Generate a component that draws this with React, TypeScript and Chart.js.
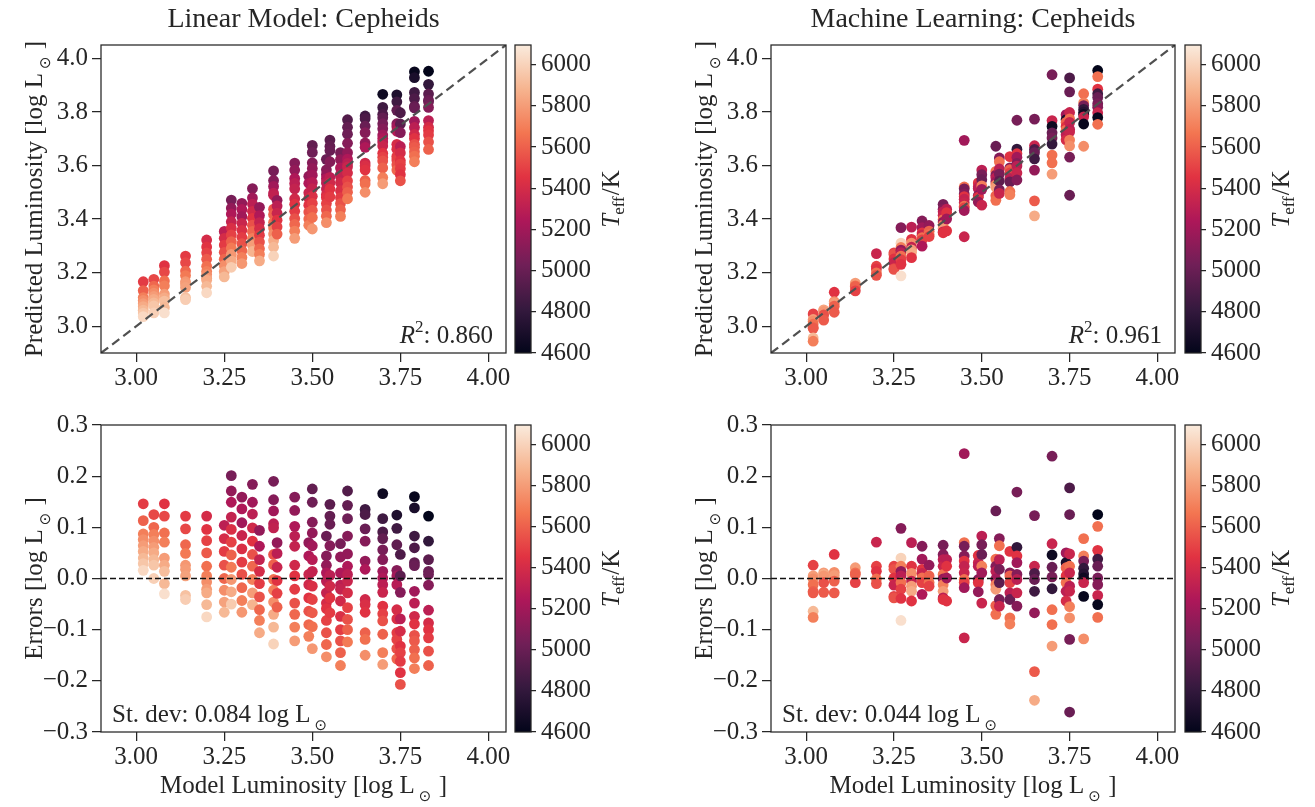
import React, { useEffect, useRef } from 'react';
import { Chart, registerables } from 'chart.js';

Chart.register(...registerables);

// ---------------- data ----------------
// Model luminosity of each column of Cepheid models [log L_sun]
const modelLum = [3.02, 3.05, 3.08, 3.14, 3.20, 3.25, 3.27, 3.30, 3.33, 3.35, 3.39, 3.40, 3.45, 3.49, 3.50, 3.54, 3.55, 3.58, 3.60, 3.65, 3.70, 3.74, 3.75, 3.79, 3.83];

// Linear model: errors (predicted - model) per column
const linearErrors: number[][] = [
  [0.146, 0.113, 0.087, 0.076, 0.064, 0.053, 0.040, 0.029, 0.016],
  [0.125, 0.100, 0.086, 0.073, 0.061, 0.050, 0.037, 0.026, 0.000],
  [0.146, 0.122, 0.089, 0.071, 0.040, 0.026, 0.014, -0.010, -0.030],
  [0.122, 0.097, 0.066, 0.049, 0.026, 0.018, 0.005, -0.033, -0.041],
  [0.122, 0.096, 0.074, 0.050, 0.024, 0.005, -0.007, -0.021, -0.028, -0.051, -0.075],
  [0.104, 0.078, 0.053, 0.026, 0.000, -0.023, -0.046, -0.066],
  [0.201, 0.171, 0.149, 0.120, 0.096, 0.071, 0.046, 0.022, -0.002, -0.026, -0.050],
  [0.159, 0.136, 0.109, 0.084, 0.058, 0.032, 0.008, -0.018, -0.043, -0.066],
  [0.184, 0.149, 0.126, 0.099, 0.073, 0.047, 0.024, -0.002, -0.028, -0.051],
  [0.094, 0.063, 0.037, 0.014, -0.010, -0.036, -0.061, -0.082, -0.106],
  [0.190, 0.154, 0.132, 0.107, 0.099, 0.047, 0.027, -0.002, -0.023, -0.046, -0.070, -0.095, -0.128],
  [0.070, 0.049, 0.022, -0.004, -0.029, -0.056],
  [0.159, 0.133, 0.102, 0.083, 0.063, 0.026, 0.005, -0.021, -0.048, -0.070, -0.095, -0.122],
  [0.070, 0.044, 0.008, -0.012, -0.038, -0.064, -0.090, -0.113],
  [0.175, 0.149, 0.110, 0.089, 0.064, 0.037, 0.014, -0.015, -0.041, -0.067, -0.094, -0.137],
  [0.083, 0.044, 0.026, 0.011, -0.005, -0.028, -0.048, -0.059, -0.082, -0.106, -0.129, -0.153],
  [0.145, 0.122, 0.106, 0.064, 0.006, -0.015, -0.038, -0.067],
  [0.068, 0.042, 0.011, -0.013, -0.021, -0.044, -0.074, -0.100, -0.122, -0.145, -0.170],
  [0.171, 0.143, 0.117, 0.083, 0.048, 0.024, 0.008, -0.005, -0.028, -0.057, -0.080, -0.100, -0.124],
  [0.135, 0.125, 0.097, 0.073, 0.034, 0.018, -0.041, -0.051, -0.066, -0.106, -0.119, -0.150],
  [0.166, 0.117, 0.091, 0.078, 0.056, 0.037, 0.014, 0.001, -0.012, -0.027, -0.054, -0.069, -0.083, -0.109, -0.145, -0.168],
  [0.124, 0.098, 0.066, 0.016, 0.005, -0.012, -0.061, -0.079, -0.106, -0.119, -0.137, -0.157],
  [0.047, 0.005, -0.027, -0.079, -0.103, -0.132, -0.145, -0.162, -0.184, -0.207],
  [0.160, 0.138, 0.083, 0.060, 0.031, 0.025, -0.025, -0.048, -0.074, -0.089, -0.111, -0.122, -0.139, -0.155, -0.176],
  [0.122, 0.073, 0.037, 0.014, 0.008, -0.013, -0.062, -0.087, -0.100, -0.116, -0.142, -0.170],
];

// Linear model: effective temperature of each point [K]
const linearTeff: number[][] = [
  [5480, 5600, 5700, 5750, 5800, 5850, 5900, 5950, 6020],
  [5520, 5620, 5700, 5750, 5800, 5850, 5900, 5950, 5990],
  [5450, 5520, 5650, 5700, 5800, 5850, 5920, 5900, 6050],
  [5480, 5520, 5620, 5680, 5780, 5800, 5820, 5930, 5980],
  [5400, 5450, 5500, 5580, 5650, 5700, 5750, 5800, 5850, 5900, 6020],
  [5300, 5400, 5480, 5550, 5620, 5750, 5820, 5900],
  [5050, 5150, 5250, 5330, 5420, 5500, 5600, 5680, 5780, 5850, 5970],
  [5150, 5250, 5200, 5350, 5420, 5480, 5550, 5620, 5700, 5780],
  [5100, 5200, 5300, 5380, 5450, 5550, 5620, 5700, 5800, 5880],
  [5150, 5250, 5330, 5400, 5480, 5550, 5620, 5700, 5850],
  [5050, 5100, 5200, 5300, 5320, 5550, 5600, 5650, 5700, 5750, 5850, 5900, 6000],
  [5150, 5300, 5350, 5450, 5500, 5600],
  [5100, 5150, 5250, 5300, 5330, 5380, 5450, 5480, 5550, 5620, 5700, 5800],
  [5150, 5250, 5350, 5380, 5450, 5550, 5620, 5700],
  [4980, 5020, 5100, 5150, 5200, 5280, 5330, 5420, 5500, 5580, 5650, 5780],
  [5000, 5100, 5150, 5250, 5300, 5330, 5400, 5450, 5500, 5550, 5620, 5750],
  [4950, 4980, 5000, 5100, 5300, 5380, 5450, 5480],
  [5050, 5150, 5250, 5300, 5330, 5380, 5420, 5480, 5550, 5600, 5700],
  [4920, 4980, 5020, 5100, 5150, 5250, 5300, 5350, 5400, 5500, 5550, 5600, 5680],
  [4850, 4900, 5000, 5100, 5150, 5250, 5380, 5420, 5450, 5600, 5650, 5750],
  [4650, 4850, 4900, 4980, 5050, 5100, 5200, 5250, 5300, 5350, 5450, 5500, 5550, 5600, 5700, 5800],
  [4720, 4850, 4970, 5100, 5200, 5280, 5400, 5430, 5480, 5500, 5550, 5620],
  [4900, 4950, 5100, 5300, 5400, 5450, 5500, 5480, 5450, 5550],
  [4620, 4700, 4850, 4900, 4980, 5000, 5200, 5300, 5380, 5450, 5550, 5580, 5600, 5650, 5700],
  [4600, 4800, 4950, 5000, 5020, 5100, 5300, 5400, 5450, 5480, 5550, 5600],
];

// Machine learning: errors per column
const mlErrors: number[][] = [
  [0.026, 0.005, -0.001, -0.012, -0.025, -0.028, -0.064, -0.076],
  [0.011, 0.008, 0.005, -0.008, -0.027],
  [0.047, 0.012, 0.006, -0.005, -0.028],
  [0.021, 0.011, 0.008, -0.008],
  [0.071, 0.024, 0.014, -0.001, -0.010],
  [0.024, 0.018, 0.001, -0.013, -0.035, -0.038],
  [0.098, 0.040, 0.024, 0.014, 0.005, -0.008, -0.021, -0.039, -0.082],
  [0.070, 0.024, 0.010, -0.005, -0.015, -0.025, -0.044],
  [0.063, 0.038, 0.018, 0.010, 0.001, -0.008, -0.031],
  [0.026, 0.005, -0.008, -0.015],
  [0.065, 0.047, 0.037, 0.024, 0.008, -0.001, -0.012, -0.025, -0.038, -0.041],
  [0.037, 0.024, 0.001, -0.044],
  [0.244, 0.070, 0.063, 0.044, 0.034, 0.024, 0.011, -0.002, -0.008, -0.018, -0.116],
  [0.045, 0.031, 0.024, -0.002, -0.008, -0.026],
  [0.083, 0.066, 0.047, 0.024, 0.011, -0.048],
  [0.132, 0.038, 0.024, 0.014, -0.001, -0.012, -0.021, -0.053, -0.070],
  [0.078, 0.064, 0.037, 0.018, -0.008, -0.041, -0.054],
  [0.053, 0.011, 0.005, -0.008, -0.028, -0.041, -0.077, -0.089],
  [0.169, 0.061, 0.044, 0.031, 0.008, -0.002, -0.028, -0.054],
  [0.123, 0.024, 0.010, -0.002, -0.025, -0.067, -0.182, -0.238],
  [0.239, 0.068, 0.046, 0.022, 0.003, -0.020, -0.061, -0.090, -0.132],
  [0.050, 0.031, 0.021, 0.005, -0.008, -0.025, -0.044],
  [0.177, 0.125, 0.048, 0.024, 0.011, -0.015, -0.025, -0.055, -0.077, -0.119, -0.261],
  [0.078, 0.044, 0.034, 0.020, 0.009, 0.001, -0.008, -0.035, -0.118],
  [0.125, 0.102, 0.055, 0.038, 0.024, 0.001, -0.012, -0.033, -0.051, -0.076],
];

// Machine learning: effective temperatures [K]
const mlTeff: number[][] = [
  [5500, 5800, 5750, 5650, 5600, 5580, 5900, 5700],
  [5800, 5850, 5780, 5550, 5580],
  [5450, 5750, 5800, 5600, 5580],
  [5800, 5650, 5600, 5500],
  [5350, 5500, 5450, 5650, 5550],
  [5500, 5550, 5450, 5350, 5500, 5550],
  [5100, 6000, 5700, 5150, 5300, 5650, 5500, 5450, 6050],
  [5300, 5450, 5750, 5330, 5800, 5850, 5450],
  [5100, 5200, 5450, 5350, 5650, 5500, 5250],
  [5150, 5600, 5650, 5500],
  [5050, 5100, 5300, 5350, 5650, 5150, 5700, 5800, 5300, 5450],
  [5300, 5450, 5200, 5450],
  [5200, 5650, 5050, 5100, 5450, 5330, 5350, 5650, 5500, 5200, 5350],
  [5450, 5350, 5300, 5100, 5450, 5150],
  [5300, 5050, 5000, 5700, 5200, 5350],
  [5000, 5650, 5100, 5300, 5200, 5700, 5800, 5600, 5650],
  [5100, 5650, 5300, 5050, 4950, 5050, 5350],
  [5450, 5100, 5600, 5500, 5300, 5000, 5650, 5700],
  [5050, 4800, 5450, 5200, 5100, 5300, 5350, 5100],
  [5050, 5350, 4900, 5000, 4850, 5150, 5580, 5850],
  [5050, 5350, 4650, 5000, 5050, 4800, 5650, 5650, 5800],
  [5200, 4700, 5600, 5450, 5650, 5300, 5400],
  [4900, 5000, 5350, 5650, 5350, 5300, 5350, 5700, 5750, 5050, 5000],
  [5650, 5700, 5050, 4800, 4750, 4650, 5350, 4620, 5750],
  [4600, 5650, 5450, 4850, 5000, 5050, 5100, 5350, 4620, 5650],
];

// ticks / ranges
const lumTicks = [3.0, 3.25, 3.5, 3.75, 4.0];
const predTicks = [3.0, 3.2, 3.4, 3.6, 3.8, 4.0];
const errTicks = [-0.3, -0.2, -0.1, 0.0, 0.1, 0.2, 0.3];
const teffTicks = [4600, 4800, 5000, 5200, 5400, 5600, 5800, 6000];
const lumRange = [2.9, 4.05];
const errRange = [-0.3, 0.3];
const teffRange = [4600, 6095];
const r2Linear = '0.860';
const r2ML = '0.961';
const sdLinear = '0.084';
const sdML = '0.044';

// ---------------- style ----------------
const SERIF = '"Liberation Serif", "Times New Roman", Times, serif';
const INK = '#262626';
const rocketStops: [number, number[]][] = [
  [0, [3, 5, 26]],
  [1 / 7, [53, 25, 62]],
  [2 / 7, [112, 31, 87]],
  [3 / 7, [173, 23, 89]],
  [4 / 7, [225, 51, 66]],
  [5 / 7, [243, 118, 81]],
  [6 / 7, [246, 180, 143]],
  [1, [250, 235, 221]],
];

function rocket(teff: number): string {
  let t = (teff - teffRange[0]) / (teffRange[1] - teffRange[0]);
  t = Math.max(0, Math.min(1, t));
  for (let i = 0; i < rocketStops.length - 1; i++) {
    const [t0, c0] = rocketStops[i];
    const [t1, c1] = rocketStops[i + 1];
    if (t <= t1) {
      const f = (t - t0) / (t1 - t0);
      const c = c0.map((v, k) => Math.round(v + (c1[k] - v) * f));
      return `rgb(${c[0]},${c[1]},${c[2]})`;
    }
  }
  return 'rgb(250,235,221)';
}

type Part = { t: string; size: number; italic?: boolean; dy?: number; dx?: number; family?: string };

function fontOf(p: Part) {
  return `${p.italic ? 'italic ' : ''}${p.size}px ${p.family || SERIF}`;
}

function drawRich(ctx: CanvasRenderingContext2D, parts: Part[], x: number, y: number, align: 'left' | 'center' | 'right', rotation = 0) {
  ctx.save();
  ctx.translate(x, y);
  ctx.rotate(rotation);
  ctx.textBaseline = 'alphabetic';
  ctx.textAlign = 'left';
  ctx.fillStyle = INK;
  let total = 0;
  const widths = parts.map((p) => {
    ctx.font = fontOf(p);
    const w = ctx.measureText(p.t).width + (p.dx || 0);
    total += w;
    return w;
  });
  let cx = align === 'left' ? 0 : align === 'right' ? -total : -total / 2;
  parts.forEach((p, i) => {
    ctx.font = fontOf(p);
    ctx.fillText(p.t, cx + (p.dx || 0), p.dy || 0);
    cx += widths[i];
  });
  ctx.restore();
}

const SUN: Part = { t: '\u2299', size: 15, family: '"DejaVu Sans", sans-serif', dy: 8, dx: 4 };
const logSun = (prefix: string): Part[] => [
  { t: prefix + '[log L', size: 25 },
  SUN,
  { t: ' ]', size: 25, dx: 1 },
];

// ---------------- chart configs ----------------
type Area = { l: number; t: number; r: number; b: number };

function panelConfig(opts: {
  kind: 'pred' | 'err';
  errs: number[][];
  teffs: number[][];
  w: number;
  h: number;
  area: Area;
  title?: string;
  yLabel: Part[];
  xLabel?: Part[];
  note: Part[];
  noteAlign: 'left' | 'right';
  noteX: number;
  noteY: number;
}) {
  const { kind, errs, teffs, w, h, area } = opts;
  const pts: { x: number; y: number }[] = [];
  const colors: string[] = [];
  modelLum.forEach((x, i) => {
    errs[i].forEach((e, j) => {
      pts.push({ x, y: kind === 'pred' ? +(x + e).toFixed(3) : e });
      colors.push(rocket(teffs[i][j]));
    });
  });
  const refLine =
    kind === 'pred'
      ? [
          { x: lumRange[0], y: lumRange[0] },
          { x: lumRange[1], y: lumRange[1] },
        ]
      : [
          { x: lumRange[0], y: 0 },
          { x: lumRange[1], y: 0 },
        ];
  const yr = kind === 'pred' ? lumRange : errRange;
  const yt = kind === 'pred' ? predTicks : errTicks;
  const tickFont = { family: SERIF, size: 25 };
  const grid = { display: true, drawOnChartArea: false, drawTicks: true, tickLength: 9, color: INK, lineWidth: 1.25 };
  return {
    type: 'scatter' as const,
    data: {
      datasets: [
        {
          type: 'line' as const,
          data: refLine,
          borderColor: kind === 'pred' ? '#505050' : '#111111',
          borderWidth: kind === 'pred' ? 2.2 : 1.5,
          borderDash: kind === 'pred' ? [9, 5] : [6, 3],
          pointRadius: 0,
          fill: false,
          order: 0,
        },
        {
          data: pts,
          backgroundColor: colors,
          borderWidth: 0,
          pointRadius: 5.4,
          pointHoverRadius: 5.4,
          order: 1,
        },
      ],
    },
    options: {
      responsive: false,
      animation: false as const,
      devicePixelRatio: 1,
      events: [] as any[],
      layout: { padding: { left: 0, top: area.t, right: w - area.r, bottom: 0 } },
      plugins: { legend: { display: false }, tooltip: { enabled: false }, title: { display: false } },
      scales: {
        x: {
          type: 'linear' as const,
          min: lumRange[0],
          max: lumRange[1],
          afterBuildTicks: (s: any) => {
            s.ticks = lumTicks.map((v) => ({ value: v }));
          },
          afterFit: (s: any) => {
            s.height = h - area.b;
          },
          ticks: { font: tickFont, color: INK, padding: 1, maxRotation: 0, autoSkip: false, callback: (v: any) => Number(v).toFixed(2) },
          grid,
          border: { display: false },
        },
        y: {
          type: 'linear' as const,
          min: yr[0],
          max: yr[1],
          afterBuildTicks: (s: any) => {
            s.ticks = yt.map((v) => ({ value: v }));
          },
          afterFit: (s: any) => {
            s.width = area.l;
          },
          ticks: {
            font: tickFont,
            color: INK,
            padding: 4,
            autoSkip: false,
            callback: (v: any) => {
              const n = Number(v);
              return n < -1e-9 ? '\u2212' + Math.abs(n).toFixed(1) : Math.abs(n).toFixed(1);
            },
          },
          grid,
          border: { display: false },
        },
      },
    },
    plugins: [
      {
        id: 'deco',
        afterDraw(chart: any) {
          const ctx: CanvasRenderingContext2D = chart.ctx;
          const a = chart.chartArea;
          ctx.save();
          ctx.strokeStyle = INK;
          ctx.lineWidth = 1.25;
          ctx.strokeRect(a.left, a.top, a.right - a.left, a.bottom - a.top);
          ctx.restore();
          const cx = (a.left + a.right) / 2;
          if (opts.title) drawRich(ctx, [{ t: opts.title, size: 28 }], cx, 27, 'center');
          drawRich(ctx, opts.yLabel, 42, (a.top + a.bottom) / 2, 'center', -Math.PI / 2);
          if (opts.xLabel) drawRich(ctx, opts.xLabel, cx, a.bottom + 61, 'center');
          drawRich(ctx, opts.note, opts.noteX, opts.noteY, opts.noteAlign);
        },
      },
    ],
  };
}

function colorbarConfig(w: number, h: number, area: Area) {
  return {
    type: 'scatter' as const,
    data: { datasets: [] as any[] },
    options: {
      responsive: false,
      animation: false as const,
      devicePixelRatio: 1,
      events: [] as any[],
      layout: { padding: { left: area.l, top: area.t, right: 0, bottom: h - area.b } },
      plugins: { legend: { display: false }, tooltip: { enabled: false } },
      scales: {
        x: { type: 'linear' as const, display: false, min: 0, max: 1 },
        y: {
          type: 'linear' as const,
          position: 'right' as const,
          min: teffRange[0],
          max: teffRange[1],
          afterBuildTicks: (s: any) => {
            s.ticks = teffTicks.map((v) => ({ value: v }));
          },
          afterFit: (s: any) => {
            s.width = w - area.r;
          },
          ticks: { font: { family: SERIF, size: 25 }, color: INK, padding: 5, autoSkip: false, callback: (v: any) => String(v) },
          grid: { display: true, drawOnChartArea: false, drawTicks: true, tickLength: 5, color: INK, lineWidth: 1.25 },
          border: { display: false },
        },
      },
    },
    plugins: [
      {
        id: 'cbar',
        beforeDatasetsDraw(chart: any) {
          const ctx: CanvasRenderingContext2D = chart.ctx;
          const a = chart.chartArea;
          const ys = chart.scales.y;
          const y0 = ys.getPixelForValue(teffRange[0]);
          const y1 = ys.getPixelForValue(teffRange[1]);
          const g = ctx.createLinearGradient(0, y0, 0, y1);
          rocketStops.forEach(([t, c]) => g.addColorStop(t, `rgb(${c[0]},${c[1]},${c[2]})`));
          ctx.save();
          ctx.fillStyle = g;
          ctx.fillRect(a.left, a.top, a.right - a.left, a.bottom - a.top);
          ctx.strokeStyle = INK;
          ctx.lineWidth = 1.25;
          ctx.strokeRect(a.left, a.top, a.right - a.left, a.bottom - a.top);
          ctx.restore();
          drawRich(
            ctx,
            [
              { t: 'T', size: 25, italic: true },
              { t: 'eff', size: 17, dy: 5, dx: -1 },
              { t: '/K', size: 25, dx: 1 },
            ],
            a.left + 104,
            (a.top + a.bottom) / 2,
            'center',
            -Math.PI / 2
          );
        },
      },
    ],
  };
}

// ---------------- components ----------------
function ChartBox({ x, y, w, h, make }: { x: number; y: number; w: number; h: number; make: () => any }) {
  const ref = useRef<HTMLCanvasElement>(null);
  useEffect(() => {
    const chart = new Chart(ref.current as HTMLCanvasElement, make());
    return () => chart.destroy();
  }, []);
  return (
    <div style={{ position: 'absolute', left: x, top: y, width: w, height: h }}>
      <canvas ref={ref} width={w} height={h} style={{ width: w, height: h, display: 'block' }} />
    </div>
  );
}

export default function App() {
  const topArea: Area = { l: 101, t: 45, r: 506, b: 353 };
  const botArea: Area = { l: 101, t: 25, r: 506, b: 332 };
  const topAreaR: Area = { l: 101, t: 45, r: 505, b: 353 };
  const botAreaR: Area = { l: 101, t: 25, r: 505, b: 332 };
  const cbTop: Area = { l: 10, t: 45, r: 26, b: 353 };
  const cbBot: Area = { l: 10, t: 25, r: 26, b: 332 };
  const r2 = (v: string): Part[] => [
    { t: 'R', size: 25, italic: true },
    { t: '2', size: 17, dy: -11 },
    { t: ': ' + v, size: 25 },
  ];
  const sd = (v: string): Part[] => [{ t: 'St. dev: ' + v + ' log L', size: 25 }, SUN];
  return (
    <div style={{ position: 'absolute', left: 0, top: 0, width: 1315, height: 807, background: '#ffffff', overflow: 'hidden' }}>
      <ChartBox
        x={0}
        y={0}
        w={512}
        h={400}
        make={() =>
          panelConfig({
            kind: 'pred',
            errs: linearErrors,
            teffs: linearTeff,
            w: 512,
            h: 400,
            area: topArea,
            title: 'Linear Model: Cepheids',
            yLabel: logSun('Predicted Luminosity '),
            note: r2(r2Linear),
            noteAlign: 'right',
            noteX: 493,
            noteY: 343,
          })
        }
      />
      <ChartBox
        x={0}
        y={400}
        w={512}
        h={407}
        make={() =>
          panelConfig({
            kind: 'err',
            errs: linearErrors,
            teffs: linearTeff,
            w: 512,
            h: 407,
            area: botArea,
            yLabel: logSun('Errors '),
            xLabel: logSun('Model Luminosity '),
            note: sd(sdLinear),
            noteAlign: 'left',
            noteX: 112,
            noteY: 322,
          })
        }
      />
      <ChartBox
        x={670}
        y={0}
        w={512}
        h={400}
        make={() =>
          panelConfig({
            kind: 'pred',
            errs: mlErrors,
            teffs: mlTeff,
            w: 512,
            h: 400,
            area: topAreaR,
            title: 'Machine Learning: Cepheids',
            yLabel: logSun('Predicted Luminosity '),
            note: r2(r2ML),
            noteAlign: 'right',
            noteX: 492,
            noteY: 343,
          })
        }
      />
      <ChartBox
        x={670}
        y={400}
        w={512}
        h={407}
        make={() =>
          panelConfig({
            kind: 'err',
            errs: mlErrors,
            teffs: mlTeff,
            w: 512,
            h: 407,
            area: botAreaR,
            yLabel: logSun('Errors '),
            xLabel: logSun('Model Luminosity '),
            note: sd(sdML),
            noteAlign: 'left',
            noteX: 112,
            noteY: 322,
          })
        }
      />
      <ChartBox x={505} y={0} w={135} h={400} make={() => colorbarConfig(135, 400, cbTop)} />
      <ChartBox x={505} y={400} w={135} h={407} make={() => colorbarConfig(135, 407, cbBot)} />
      <ChartBox x={1175} y={0} w={140} h={400} make={() => colorbarConfig(140, 400, cbTop)} />
      <ChartBox x={1175} y={400} w={140} h={407} make={() => colorbarConfig(140, 407, cbBot)} />
    </div>
  );
}
